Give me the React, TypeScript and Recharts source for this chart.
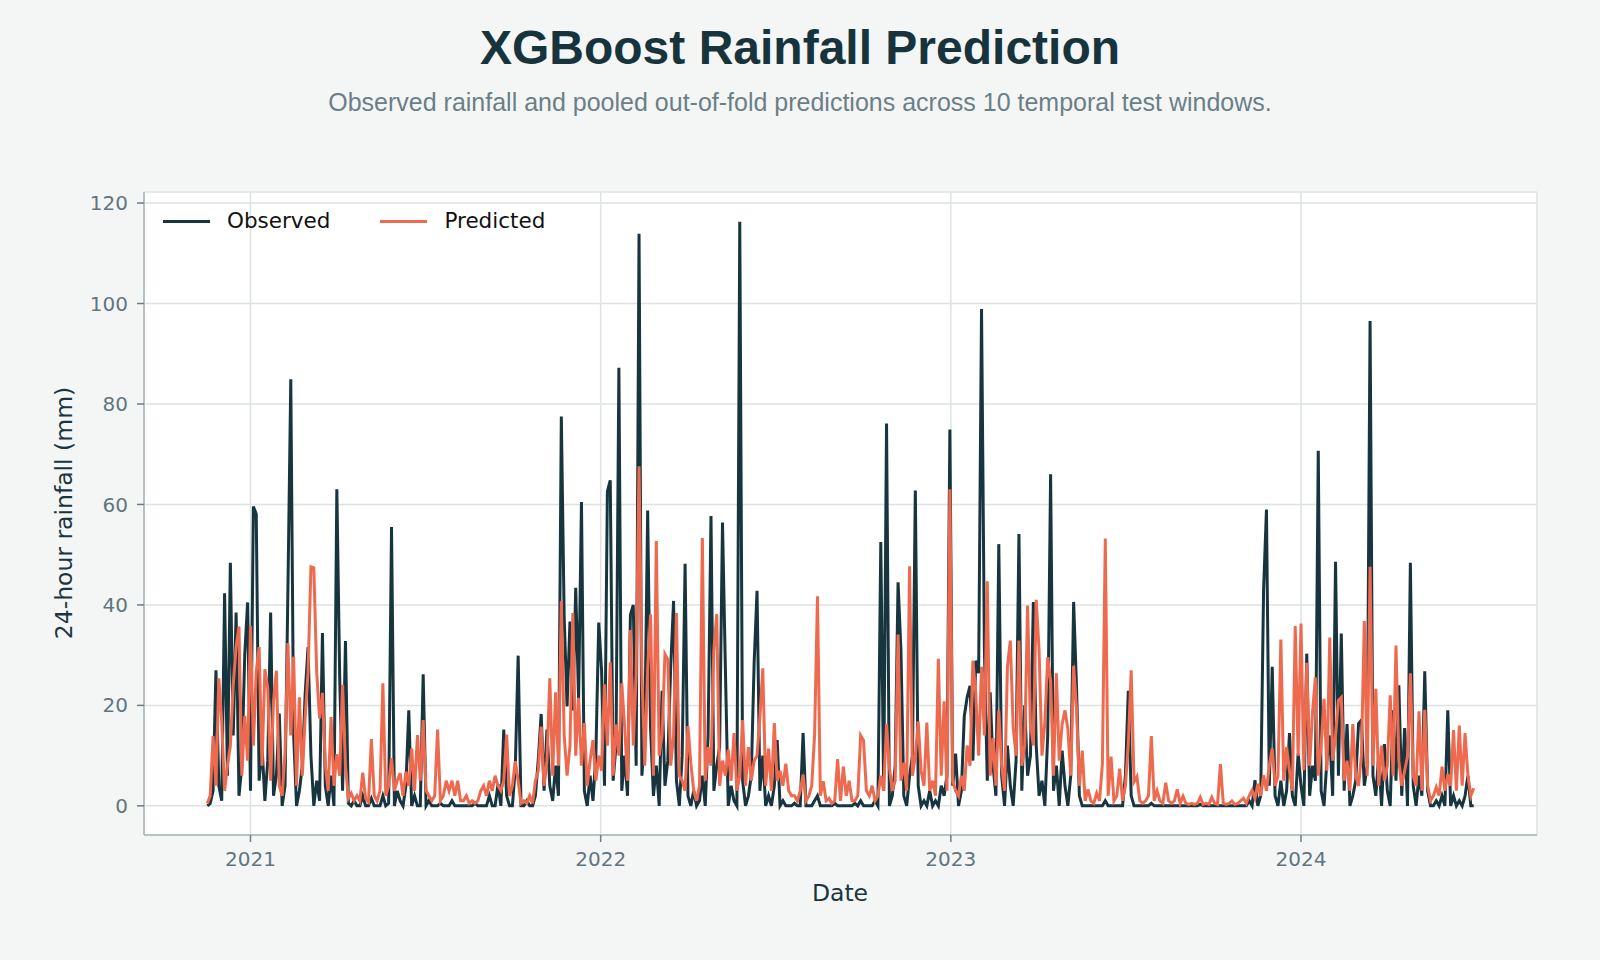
import { LineChart, Line, XAxis, YAxis, CartesianGrid } from "recharts";

// daily series sampled every 3 days, day 0 = 2021-01-01
const START_DAY = -45;
const STEP_DAYS = 3;

const yearTicks = [0, 365, 730, 1095];
const yearLabels = ["2021", "2022", "2023", "2024"];
const rainTicks = [0, 20, 40, 60, 80, 100, 120];

const observed = [
  0, 0.5, 3, 27, 4, 1, 42.3, 6, 48.4, 14,
  38.5, 2, 8, 30, 40.5, 3, 59.6, 58.1, 5, 12,
  1, 9, 38.5, 2, 6, 18.4, 0, 4, 42.9, 84.9,
  14, 0, 3, 8, 22.3, 31.6, 10, 0, 5, 1,
  34.4, 4, 0, 6, 0, 63, 25.4, 3, 32.8, 0.5,
  0, 1, 0, 0, 2, 0, 0, 1.5, 0, 0,
  0, 2, 0, 0.5, 55.5, 0, 3, 1, 0, 4,
  19, 0, 2, 0, 0, 26.2, 0, 1, 0, 0,
  0, 0.5, 0, 0, 0, 1, 0, 0, 0, 0,
  0, 0, 0, 0.5, 0, 0, 0, 0, 2, 0,
  0, 4.3, 0, 15.2, 2, 0, 0, 7.5, 29.9, 0,
  0, 1, 0, 0, 2, 9.3, 18.3, 3, 15.2, 4,
  1, 8, 2, 77.5, 37.3, 19.8, 36.7, 19, 43.4, 21.1,
  60.5, 3, 0, 6, 1, 10, 36.5, 26.8, 4, 62.6,
  64.8, 5, 12, 87.2, 3, 10, 2, 38, 40, 8,
  113.9, 6, 15, 58.8, 15.5, 2, 8, 0, 22.9, 4,
  9, 27.6, 40.8, 5, 0, 10, 48.2, 2, 0, 3,
  0, 1, 6, 0, 14, 57.7, 3, 8, 11.7, 56.4,
  27.4, 0, 4, 1, 0, 116.3, 5, 0, 2, 6,
  28.6, 42.8, 3, 10, 0, 2, 0, 4, 13.1, 0,
  1, 0, 0, 0, 0.5, 0, 0, 14.5, 0, 0,
  0, 1, 2, 0, 0, 0, 0, 0, 0.5, 0,
  0, 0, 0, 0, 0, 0.5, 0, 1, 0, 0,
  0, 0, 1, 0, 52.5, 3, 76.1, 0, 2, 8,
  44.5, 30.9, 2, 0, 6, 10, 62.8, 4, 0, 1,
  0, 3, 0, 1, 0, 4, 2, 6, 74.9, 4,
  10.4, 0, 3, 17.8, 21.6, 23.9, 9, 28.9, 26.4, 98.9,
  31.2, 5, 22.6, 8, 2, 52.1, 6, 0, 12, 4,
  0, 9, 54.1, 3, 20, 6, 10, 40.6, 12, 2,
  5, 0, 14, 66, 3, 8, 0, 11, 4, 0,
  6, 40.6, 23.7, 2, 0, 0, 0, 0, 0, 0,
  0, 0, 1, 0, 0, 0, 0, 0, 0, 6.1,
  22.9, 2, 0, 0, 0, 0, 0, 0, 0.5, 0,
  0, 0, 0, 0, 0, 0, 0, 0, 0, 0,
  0, 0, 0, 0, 0, 0.3, 0, 0, 0, 0,
  0, 0, 0, 0, 0, 0, 0, 0, 0, 0,
  0, 0, 1, 0, 5.1, 0, 2, 42.9, 59, 4,
  27.7, 2, 0, 5, 0, 3, 14.5, 2, 0, 10.4,
  4, 0, 30.3, 2, 8, 5, 70.7, 3, 0, 9,
  14, 2, 48.6, 6, 34.3, 3, 16.3, 0, 2, 5,
  16.4, 17.1, 4, 8, 96.5, 6, 2, 10, 0, 12.3,
  3, 0, 19, 5, 24, 2, 15.5, 0, 48.4, 4,
  0, 6, 2, 26.8, 3, 0, 0, 1, 0, 2,
  0, 19, 0, 2, 0, 1, 0, 2, 6, 0,
  0,
];

const predicted = [
  0.5, 2, 13.9, 4, 25.4, 16.8, 3, 8, 12, 24.1,
  31.6, 35.7, 6, 17.9, 9, 35.8, 12, 26.7, 31.6, 8,
  27.2, 23.4, 5, 20.8, 26.9, 4, 2, 10.5, 32.4, 14,
  29.7, 4, 21.6, 6, 17.6, 26.6, 47.6, 47.4, 26.7, 17.4,
  22.5, 8, 3, 17.7, 4, 10.3, 6, 24.1, 8, 1.5,
  2.5, 1, 2, 1, 6.6, 1.5, 0.8, 13.3, 2, 1,
  3, 24.4, 2, 4, 9.5, 3, 5, 6.5, 2, 6.8,
  4, 11.4, 3, 14.1, 5, 17.1, 3, 2, 1, 2,
  15.2, 1, 2, 5, 3, 5, 2, 5, 1, 1,
  2, 0.5, 1, 0.5, 1, 3, 4, 2, 5, 3,
  6, 4, 3, 5, 14.2, 2, 4, 8.9, 5, 0.5,
  1, 0.5, 2, 0.5, 5, 7, 15.8, 4, 9, 25.4,
  6, 22.6, 8, 40.8, 14, 6, 12, 38.4, 10, 21.5,
  8, 16.5, 4, 9, 13.1, 5, 10, 7, 24.2, 12,
  28.6, 6, 16.2, 10, 24.4, 15.8, 5, 35, 12, 26.2,
  67.6, 26.4, 8, 27.4, 38.1, 6, 52.7, 10, 14, 30.2,
  29.1, 8, 14, 38.4, 6, 5, 3, 15.9, 8.5, 3,
  1, 4, 53.3, 5, 11.7, 8, 31, 38.2, 4, 9,
  6, 11.2, 5, 14.5, 3, 6, 17.1, 4, 11.7, 5,
  9, 10, 17.7, 27.4, 4, 11.4, 3, 16.5, 5, 7,
  4, 8.4, 3, 2, 2, 1, 3, 6.2, 1, 2,
  4, 14.1, 41.7, 2, 4.9, 1, 1.5, 0.5, 1, 9.3,
  1, 7.8, 2, 5, 1, 1, 2, 14, 13, 3,
  2, 4, 1, 2, 6, 3, 16.3, 7.6, 3, 5,
  34.1, 5, 8.6, 3, 47.7, 6, 10, 16.8, 7, 4,
  16.6, 3, 5, 2, 29.3, 6, 20.8, 3, 63, 5,
  3, 2, 6, 3, 12, 8, 28.9, 22.4, 10, 27.7,
  14, 44.7, 6, 13.5, 4, 19, 8, 3, 27.7, 32.9,
  15.6, 10, 32.9, 8, 12, 39.9, 16.3, 12, 41, 31,
  10, 16.6, 29.6, 24.8, 6, 26.4, 9, 16.2, 19, 15.3,
  6, 27.9, 19.3, 4, 11, 1, 3.3, 1, 0.5, 2.5,
  1, 8.4, 53.2, 2, 9.8, 1, 2, 7.4, 1, 4,
  12.4, 27, 4.8, 5.8, 1, 0.5, 1, 2, 13.9, 1,
  3, 1, 0.5, 4.6, 1, 0.5, 1, 3.3, 0.5, 1.9,
  0.5, 0.3, 0.5, 0.3, 0.5, 1.7, 0.3, 0.5, 0.3, 1.7,
  0.5, 0.3, 8.3, 0.5, 0.3, 0.5, 1, 0.3, 0.5, 1,
  1.5, 0.5, 2, 3.1, 1.5, 4.4, 2, 6.1, 3, 8.1,
  11.4, 4, 6, 33.1, 5, 11.7, 7, 3, 35.8, 10,
  36.3, 7.1, 28.5, 8, 18.6, 25.6, 6, 12, 21.3, 7,
  33.5, 9, 14, 21, 21.6, 5, 9, 3, 16.3, 6,
  4, 10, 36.8, 6, 47.6, 8, 23.3, 4, 12, 5,
  8, 22, 6, 31.9, 9, 4, 7, 9.8, 26.4, 6,
  4, 18.8, 3, 19.1, 4, 1, 2, 3.7, 2, 7.8,
  3, 6.3, 4, 15.1, 3, 16, 4, 14.5, 6, 2,
  3.5,
];

const data = observed.map((v, i) => ({
  day: START_DAY + i * STEP_DAYS,
  observed: v,
  predicted: predicted[i],
}));

const DARK = "#17353e";
const CORAL = "#ee6a4f";
const TICK_TEXT = "#5f7580";
const tickFont = { fontFamily: "DejaVu Sans", fontSize: 20, fill: TICK_TEXT };

function LegendItem({ color, label }: { color: string; label: string }) {
  return (
    <div style={{ display: "flex", alignItems: "center", marginRight: 50 }}>
      <div style={{ width: 47, height: 3, background: color, marginRight: 17 }} />
      <span>{label}</span>
    </div>
  );
}

export default function App() {
  return (
    <div
      style={{
        position: "absolute",
        left: 0,
        top: 0,
        width: 1600,
        height: 960,
        background: "#f4f6f5",
        overflow: "hidden",
      }}
    >
      <div
        style={{
          position: "absolute",
          top: 20,
          width: 1600,
          textAlign: "center",
          fontFamily: "Liberation Sans",
          fontWeight: "bold",
          fontSize: 48,
          color: "#17343d",
        }}
      >
        XGBoost Rainfall Prediction
      </div>
      <div
        style={{
          position: "absolute",
          top: 88,
          width: 1600,
          textAlign: "center",
          fontFamily: "Liberation Sans",
          fontSize: 25,
          color: "#6a7f88",
        }}
      >
        Observed rainfall and pooled out-of-fold predictions across 10 temporal test windows.
      </div>

      <LineChart
        width={1600}
        height={960}
        data={data}
        margin={{ top: 192, right: 63, bottom: 95, left: 84 }}
        style={{ position: "absolute", left: 0, top: 0 }}
      >
        <CartesianGrid stroke="#dce3e1" strokeWidth={1.5} fill="#ffffff" />
        <XAxis
          type="number"
          dataKey="day"
          domain={[-111, 1341]}
          ticks={yearTicks}
          tickFormatter={(d: number) => yearLabels[yearTicks.indexOf(d)] ?? ""}
          allowDataOverflow
          height={30}
          stroke="#a7b4b7"
          strokeWidth={1.5}
          tickLine={{ stroke: "#6b7c84", strokeWidth: 1.5 }}
          tickSize={7}
          tickMargin={10}
          tick={tickFont}
        />
        <YAxis
          type="number"
          domain={[-5.8, 122.2]}
          ticks={rainTicks}
          allowDataOverflow
          width={60}
          stroke="#a7b4b7"
          strokeWidth={1.5}
          tickLine={{ stroke: "#6b7c84", strokeWidth: 1.5 }}
          tickSize={7}
          tickMargin={9}
          tick={tickFont}
        />
        <Line
          type="linear"
          dataKey="observed"
          stroke={DARK}
          strokeWidth={3}
          dot={false}
          isAnimationActive={false}
        />
        <Line
          type="linear"
          dataKey="predicted"
          stroke={CORAL}
          strokeWidth={3}
          dot={false}
          isAnimationActive={false}
        />
      </LineChart>

      <div
        style={{
          position: "absolute",
          left: 163,
          top: 207,
          display: "flex",
          fontFamily: "DejaVu Sans",
          fontSize: 21.5,
          color: "#111111",
          lineHeight: "28px",
        }}
      >
        <LegendItem color={DARK} label="Observed" />
        <LegendItem color={CORAL} label="Predicted" />
      </div>

      <div
        style={{
          position: "absolute",
          left: 64,
          top: 513,
          transform: "translate(-50%, -50%) rotate(-90deg)",
          whiteSpace: "nowrap",
          fontFamily: "DejaVu Sans",
          fontSize: 23.5,
          color: "#1a3540",
        }}
      >
        24-hour rainfall (mm)
      </div>
      <div
        style={{
          position: "absolute",
          left: 840,
          top: 893,
          transform: "translate(-50%, -50%)",
          whiteSpace: "nowrap",
          fontFamily: "DejaVu Sans",
          fontSize: 23.5,
          color: "#1a3540",
        }}
      >
        Date
      </div>
    </div>
  );
}
